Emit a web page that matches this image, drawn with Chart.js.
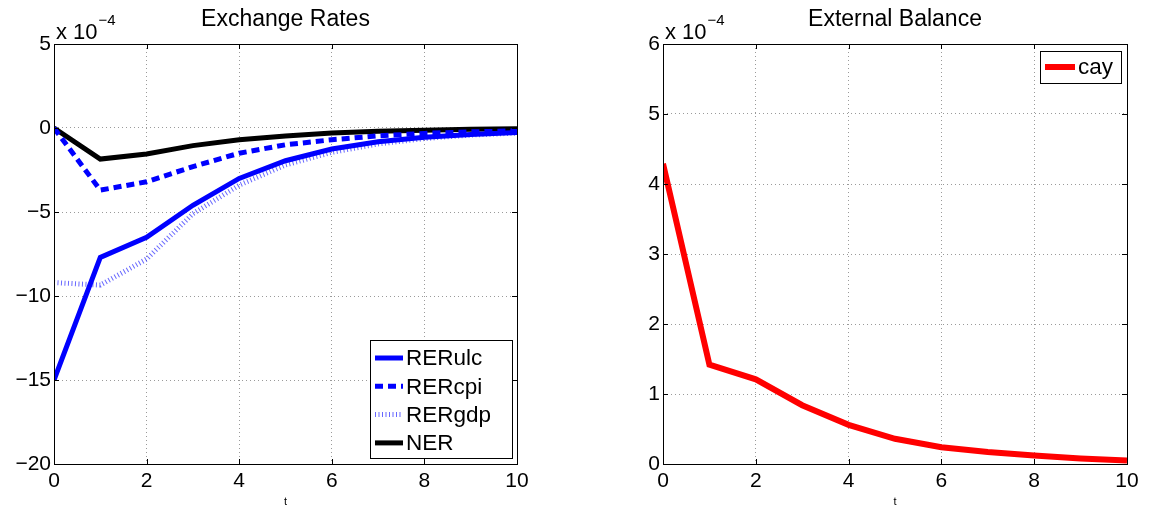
<!DOCTYPE html>
<html>
<head>
<meta charset="utf-8">
<script src="https://cdn.jsdelivr.net/npm/chart.js@4"></script>
<style>
  html, body { margin: 0; padding: 0; background: #fff; }
  body { width: 1157px; height: 514px; position: relative; overflow: hidden; }
  .box { position: absolute; top: 0; height: 514px; }
  #b1 { left: 0; width: 578px; }
  #b2 { left: 578px; width: 579px; }
</style>
</head>
<body>
<div class="box" id="b1"><canvas id="c1"></canvas></div>
<div class="box" id="b2"><canvas id="c2"></canvas></div>
<script>
// ---- data (values in units of 1e-4) ----
const t = [0, 1, 2, 3, 4, 5, 6, 7, 8, 9, 10];
const rerUlc = [-15.0, -7.7, -6.5, -4.6, -3.0, -1.95, -1.25, -0.82, -0.55, -0.38, -0.27];
const rerCpi = [0, -3.7, -3.2, -2.3, -1.5, -1.0, -0.7, -0.47, -0.32, -0.23, -0.17];
const rerGdp = [-9.2, -9.35, -7.8, -5.1, -3.4, -2.2, -1.45, -0.95, -0.63, -0.42, -0.3];
const ner = [0, -1.85, -1.55, -1.05, -0.7, -0.47, -0.3, -0.2, -0.13, -0.08, -0.05];
const cay = [4.29, 1.42, 1.21, 0.84, 0.56, 0.36, 0.24, 0.17, 0.12, 0.08, 0.05];
const xTicks = [0, 2, 4, 6, 8, 10];
const yTicksLeft = [-20, -15, -10, -5, 0, 5];
const yTicksRight = [0, 1, 2, 3, 4, 5, 6];
const titles = ['Exchange Rates', 'External Balance'];
const xLabel = 't';
const expBase = 'x 10';
const expPow = '\u22124';

const FONT = '"Liberation Sans", Arial, Helvetica, sans-serif';
Chart.defaults.font.family = FONT;
Chart.defaults.color = '#000';
Chart.defaults.animation = false;

function pts(arr) { return t.map((x, i) => ({ x: x, y: arr[i] })); }
function fmt(v) { return String(v).replace('-', '\u2212'); }

const decor = {
  id: 'decor',
  afterDraw(chart, args, o) {
    const ctx = chart.ctx, a = chart.chartArea;
    ctx.save();
    // tick marks inside the box (MATLAB style)
    ctx.strokeStyle = '#000'; ctx.lineWidth = 1;
    const xs = chart.scales.x, ys = chart.scales.y;
    ctx.beginPath();
    o.xt.forEach(v => {
      const px = Math.round(xs.getPixelForValue(v)) + 0.5;
      ctx.moveTo(px, a.bottom); ctx.lineTo(px, a.bottom - 5);
      ctx.moveTo(px, a.top); ctx.lineTo(px, a.top + 5);
    });
    o.yt.forEach(v => {
      const py = Math.round(ys.getPixelForValue(v)) + 0.5;
      ctx.moveTo(a.left, py); ctx.lineTo(a.left + 5, py);
      ctx.moveTo(a.right, py); ctx.lineTo(a.right - 5, py);
    });
    ctx.stroke();
    // plot box
    ctx.strokeRect(Math.round(a.left) + 0.5, Math.round(a.top) + 0.5,
                   Math.round(a.right - a.left), Math.round(a.bottom - a.top));
    // title
    ctx.fillStyle = '#000';
    ctx.textAlign = 'center'; ctx.textBaseline = 'alphabetic';
    ctx.font = '23px ' + FONT;
    ctx.fillText(o.title, (a.left + a.right) / 2, 26);
    // exponent label
    ctx.textAlign = 'left';
    ctx.font = '22px ' + FONT;
    ctx.fillText(expBase, a.left + 2, 39);
    const w = ctx.measureText(expBase).width;
    ctx.font = '15px ' + FONT;
    ctx.fillText(expPow, a.left + 3 + w, 25);
    // legend
    const L = o.legend;
    ctx.fillStyle = '#fff';
    ctx.fillRect(L.x, L.y, L.w, L.h);
    ctx.strokeStyle = '#000'; ctx.lineWidth = 1;
    ctx.strokeRect(L.x + 0.5, L.y + 0.5, L.w, L.h);
    chart.data.datasets.forEach((ds, i) => {
      const cy = L.y + L.first + i * L.step;
      ctx.save();
      ctx.strokeStyle = ds.borderColor;
      ctx.lineWidth = ds.borderWidth;
      ctx.setLineDash(ds.borderDash || []);
      ctx.beginPath();
      ctx.moveTo(L.x + 5, cy); ctx.lineTo(L.x + 5 + L.line, cy);
      ctx.stroke();
      ctx.restore();
      ctx.fillStyle = '#000';
      ctx.font = '22.5px ' + FONT;
      ctx.textBaseline = 'middle';
      ctx.fillText(ds.label, L.x + 8 + L.line, cy + 1);
    });
    ctx.restore();
  }
};

function makeChart(id, datasets, yMin, yMax, yStep, yt, yWidth, padRight, title, legend) {
  return new Chart(document.getElementById(id), {
    type: 'line',
    data: { datasets: datasets },
    plugins: [decor],
    options: {
      responsive: true,
      maintainAspectRatio: false,
      layout: { padding: { left: 0, right: padRight, top: 44, bottom: 0 } },
      elements: { point: { radius: 0 }, line: { tension: 0, borderCapStyle: 'butt', borderJoinStyle: 'miter' } },
      plugins: {
        legend: { display: false },
        title: { display: false },
        tooltip: { enabled: false },
        decor: { title: title, legend: legend, xt: xTicks, yt: yt }
      },
      scales: {
        x: {
          type: 'linear', min: 0, max: 10,
          afterBuildTicks: s => { s.ticks = xTicks.map(v => ({ value: v })); },
          afterFit: s => { s.height = 50; },
          grid: { color: '#9a9a9a', lineWidth: 1, drawTicks: false },
          border: { display: false, dash: [1, 3] },
          ticks: { padding: 5, font: { size: 21 }, color: '#000', maxRotation: 0, callback: v => fmt(v) },
          title: { display: true, text: xLabel, font: { size: 11 }, color: '#000', padding: { top: 0, bottom: 5 } }
        },
        y: {
          type: 'linear', min: yMin, max: yMax,
          afterBuildTicks: s => { s.ticks = yt.map(v => ({ value: v })); },
          afterFit: s => { s.width = yWidth; },
          grid: { color: '#9a9a9a', lineWidth: 1, drawTicks: false },
          border: { display: false, dash: [1, 3] },
          ticks: { padding: 3, font: { size: 21 }, color: '#000', callback: v => fmt(v) }
        }
      }
    }
  });
}

makeChart('c1', [
  { label: 'RERulc', data: pts(rerUlc), borderColor: '#0000ff', borderWidth: 5 },
  { label: 'RERcpi', data: pts(rerCpi), borderColor: '#0000ff', borderWidth: 5, borderDash: [8, 5] },
  { label: 'RERgdp', data: pts(rerGdp), borderColor: 'rgba(40,40,255,0.7)', borderWidth: 5, borderDash: [1, 2.5] },
  { label: 'NER', data: pts(ner), borderColor: '#000000', borderWidth: 5 }
], -20, 5, 5, yTicksLeft, 54, 578 - 517, titles[0],
  { x: 370, y: 340, w: 142, h: 118, first: 18, step: 28.3, line: 28 });

makeChart('c2', [
  { label: 'cay', data: pts(cay), borderColor: '#ff0000', borderWidth: 6 }
], 0, 6, 1, yTicksRight, 85, 579 - 549, titles[1],
  { x: 1040 - 578, y: 51, w: 81, h: 32, first: 16, step: 28, line: 30 });
</script>
</body>
</html>
